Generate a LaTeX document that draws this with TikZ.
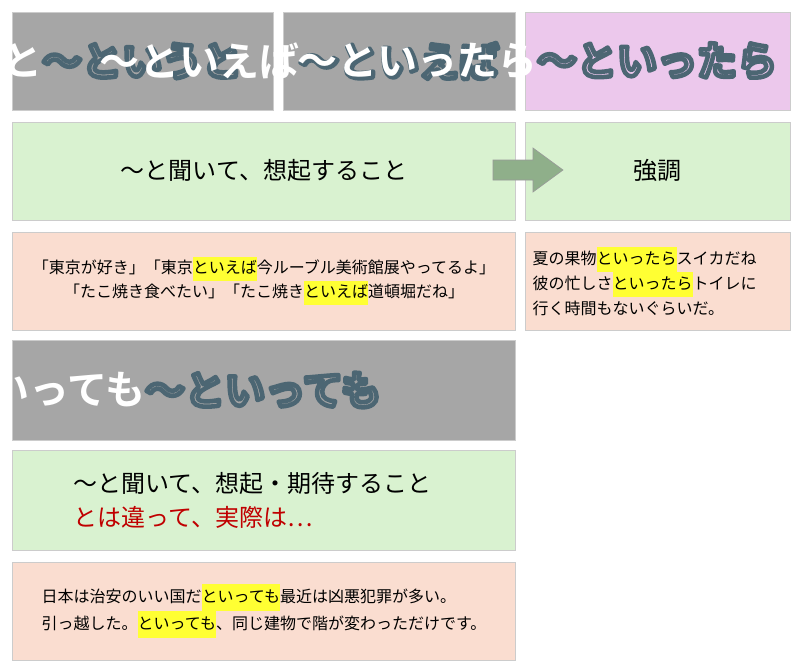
\documentclass[tikz,border=0pt]{standalone}
\usepackage{fontspec}
\newfontfamily\jp{Noto Sans CJK JP}
\newfontfamily\jpb{Noto Sans CJK JP Bold}
\definecolor{gr}{HTML}{A6A6A6}
\definecolor{pk}{HTML}{ECC8EC}
\definecolor{gn}{HTML}{D9F2D0}
\definecolor{pc}{HTML}{FADDD0}
\definecolor{hl}{HTML}{FFFF33}
\definecolor{rd}{HTML}{C00000}
\definecolor{ar}{HTML}{8FAF8A}
\newcommand{\hlt}[1]{{\setlength{\fboxsep}{0pt}\colorbox{hl}{\strut #1}}}
\newcommand{\outl}[1]{\rlap{\special{pdf:literal q 1 Tr 4.5 w 1 J 1 j 0.30 0.40 0.45 RG}#1\special{pdf:literal Q}}#1}
\begin{document}
\begin{tikzpicture}[x=1pt,y=-1pt,box/.style={draw=black!20,line width=0.8pt},
 ttl/.style={font=\jpb\fontsize{40}{40}\selectfont,text=white}]
\useasboundingbox (0,0) rectangle (800,669);
\fill[white] (0,0) rectangle (800,669);
\draw[box,fill=gr] (12,12) rectangle (273,110);
\draw[box,fill=gr] (283,12) rectangle (515,110);
\draw[box,fill=pk] (525,12) rectangle (790,110);
\draw[box,fill=gn] (12,122) rectangle (515,220);
\draw[box,fill=gn] (525,122) rectangle (790,220);
\draw[box,fill=pc] (12,232) rectangle (515,330);
\draw[box,fill=pc] (525,232) rectangle (790,330);
\draw[box,fill=gr] (12,340) rectangle (515,440);
\draw[box,fill=gn] (12,450) rectangle (515,550);
\draw[box,fill=pc] (12,562) rectangle (515,660);
\node[ttl] (t1) at (142,61) {\outl{～というと}};
\node[ttl] (t2) at (399,61) {\outl{～といえば}};
\node[ttl] (t3) at (657,61) {\outl{～といったら}};
\node[ttl] (t4) at (263,390) {\outl{～といっても}};
\node[font=\jp\fontsize{24}{24}\selectfont] (g1) at (264,170) {～と聞いて、想起すること};
\node[font=\jp\fontsize{24}{24}\selectfont] (g2) at (657,170) {強調};
\draw[draw=black!40,fill=ar,line width=0.6pt]
 (493,160) -- (533,160) -- (533,148) -- (563,170) -- (533,192) -- (533,180) -- (493,180) -- cycle;
\node[font=\jp\fontsize{16}{24}\selectfont,align=center] (p1) at (264,281)
 {「東京が好き」「東京\hlt{といえば}今ルーブル美術館展やってるよ」\\「たこ焼き食べたい」「たこ焼き\hlt{といえば}道頓堀だね」};
\node[font=\jp\fontsize{16}{25}\selectfont,align=left,anchor=west] (p2) at (529,281)
 {夏の果物\hlt{といったら}スイカだね\\彼の忙しさ\hlt{といったら}トイレに\\行く時間もないぐらいだ。};
\node[font=\jp\fontsize{24}{34}\selectfont,align=left,anchor=west] (g3) at (70,500)
 {～と聞いて、想起・期待すること\\\textcolor{rd}{とは違って、実際は…}};
\node[font=\jp\fontsize{16}{27}\selectfont,align=left] (p3) at (264,611)
 {日本は治安のいい国だ\hlt{といっても}最近は凶悪犯罪が多い。\\引っ越した。\hlt{といっても}、同じ建物で階が変わっただけです。};
\end{tikzpicture}
\end{document}
